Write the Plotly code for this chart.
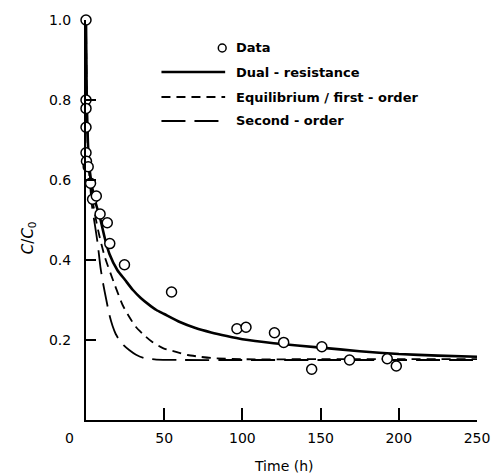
import plotly.graph_objects as go

# ---- data ----
data_t = [0, 0, 0, 0, 0, 0.3, 1.4, 2.9, 4.2, 6.6, 9.0, 13.6, 15.2, 24.6, 54.7,
          96.5, 102.3, 120.5, 126.4, 144.3, 150.8, 168.5, 192.6, 198.4]
data_c = [1.0, 0.80, 0.779, 0.732, 0.668, 0.647, 0.633, 0.592, 0.552, 0.56, 0.515, 0.493,
          0.441, 0.388, 0.32, 0.228, 0.232, 0.218, 0.194, 0.127, 0.183, 0.15, 0.153, 0.135]

dual_t = [0, 0.25, 0.5, 1, 1.5, 2.5, 4, 6, 9, 12, 15, 20, 25, 30, 35, 40, 45, 50, 60,
          70, 80, 90, 100, 120, 150, 175, 200, 225, 250]
dual_c = [1.0, 0.88, 0.80, 0.72, 0.67, 0.62, 0.58, 0.545, 0.505, 0.455, 0.415, 0.375, 0.35,
          0.325, 0.305, 0.289, 0.275, 0.265, 0.245, 0.23, 0.219, 0.21, 0.202, 0.192, 0.181,
          0.172, 0.165, 0.161, 0.158]

eq_t = [0, 0.25, 0.5, 1, 2, 3, 5, 8, 12, 18, 23.4, 27.6, 31.8, 37, 42, 49.5, 57, 65, 73,
        80, 100, 150, 200, 250]
eq_c = [1.0, 0.87, 0.79, 0.71, 0.63, 0.59, 0.53, 0.47, 0.408, 0.342, 0.2875, 0.258, 0.233,
        0.2125, 0.196, 0.179, 0.171, 0.1625, 0.158, 0.155, 0.152, 0.152, 0.152, 0.152]

so_t = [0, 0.25, 0.5, 1, 2, 3, 4, 5.6, 7.5, 9.2, 11, 13, 15, 17, 19, 21.3, 24, 27.6, 32,
        37, 45, 60, 100, 150, 200, 250]
so_c = [1.0, 0.86, 0.78, 0.70, 0.62, 0.57, 0.53, 0.49, 0.44, 0.383, 0.34, 0.30, 0.262,
        0.235, 0.215, 0.20, 0.187, 0.175, 0.163, 0.155, 0.151, 0.15, 0.15, 0.15, 0.15, 0.15]

x_ticks = [50, 100, 150, 200, 250]
y_ticks = [0.2, 0.4, 0.6, 0.8, 1.0]
legend_names = ["Data", "Dual - resistance", "Equilibrium / first - order", "Second - order"]

# ---- layout geometry ----
W, H = 502, 475
L, R, T, B = 86, 17, 20, 55
PW, PH = W - L - R, H - T - B


def px(xp):
    return (xp - L) / PW


def py(yp):
    return (H - B - yp) / PH


FONT = "DejaVu Sans, Verdana, sans-serif"

fig = go.Figure()
fig.add_trace(go.Scatter(x=dual_t, y=dual_c, mode="lines", line=dict(color="black", width=2.6,
                         shape="spline", smoothing=0.6), showlegend=False))
fig.add_trace(go.Scatter(x=eq_t, y=eq_c, mode="lines", line=dict(color="black", width=1.8,
                         dash="9px,6px", shape="spline", smoothing=0.6), showlegend=False))
fig.add_trace(go.Scatter(x=so_t, y=so_c, mode="lines", line=dict(color="black", width=1.8,
                         dash="24px,9px", shape="spline", smoothing=0.6), showlegend=False))
fig.add_trace(go.Scatter(x=data_t, y=data_c, mode="markers",
                         marker=dict(symbol="circle", size=10, color="white",
                                     line=dict(color="black", width=1.5)),
                         cliponaxis=False, showlegend=False))

# ---- manual legend ----
rows = [48, 72, 97, 121]
x0, x1, xt = 163, 228, 237
shapes = [
    dict(type="circle", xref="paper", yref="paper", x0=px(221), x1=px(229), y0=py(52), y1=py(44),
         line=dict(color="black", width=1.5), fillcolor="white"),
    dict(type="line", xref="paper", yref="paper", x0=px(x0), x1=px(x1), y0=py(rows[1]), y1=py(rows[1]),
         line=dict(color="black", width=2.6)),
    dict(type="line", xref="paper", yref="paper", x0=px(x0), x1=px(x1), y0=py(rows[2]), y1=py(rows[2]),
         line=dict(color="black", width=1.8, dash="9px,6px")),
    dict(type="line", xref="paper", yref="paper", x0=px(x0), x1=px(x1), y0=py(rows[3]), y1=py(rows[3]),
         line=dict(color="black", width=1.8, dash="24px,9px")),
]
annotations = []
for name, r in zip(legend_names, rows):
    annotations.append(dict(text=name, xref="paper", yref="paper", x=px(xt), y=py(r),
                            xanchor="left", yanchor="middle", showarrow=False,
                            font=dict(family=FONT, size=13, color="black", weight="bold")))
annotations.append(dict(text="0", xref="paper", yref="paper", x=px(69), y=py(438),
                        xanchor="center", yanchor="middle", showarrow=False,
                        font=dict(family=FONT, size=14, color="black")))
annotations.append(dict(text="Time (h)", xref="paper", yref="paper", x=px(288), y=py(466),
                        xanchor="center", yanchor="middle", showarrow=False,
                        font=dict(family=FONT, size=14, color="black")))
annotations.append(dict(text="<i>C</i>/<i>C</i><sub>0</sub>", xref="paper", yref="paper",
                        x=px(28), y=py(238), xanchor="center", yanchor="middle",
                        textangle=-90, showarrow=False,
                        font=dict(family=FONT, size=15, color="black")))

fig.update_layout(
    width=W, height=H, margin=dict(l=L, r=R, t=T, b=B),
    paper_bgcolor="white", plot_bgcolor="white",
    shapes=shapes, annotations=annotations,
    font=dict(family=FONT, size=14, color="black"),
    xaxis=dict(range=[0, 250], tickvals=x_ticks, ticktext=[str(v) for v in x_ticks],
               ticks="inside", ticklen=12, tickwidth=1.5, tickcolor="black",
               showline=True, linecolor="black", linewidth=2, showgrid=False, zeroline=False,
               ticklabelstandoff=4),
    yaxis=dict(range=[0, 1.0], tickvals=y_ticks, ticktext=[f"{v:.1f}" for v in y_ticks],
               ticks="inside", ticklen=10, tickwidth=1.5, tickcolor="black",
               showline=True, linecolor="black", linewidth=2, showgrid=False, zeroline=False,
               ticklabelstandoff=10),
)

fig.write_html("out.html", config={"displayModeBar": False})

# remove the browser's default page margin so the figure sits at the window's corner
with open("out.html", "r", encoding="utf-8") as f:
    html = f.read()
html = html.replace("<head>", "<head><style>html,body{margin:0;padding:0;overflow:hidden;}</style>", 1)
with open("out.html", "w", encoding="utf-8") as f:
    f.write(html)
